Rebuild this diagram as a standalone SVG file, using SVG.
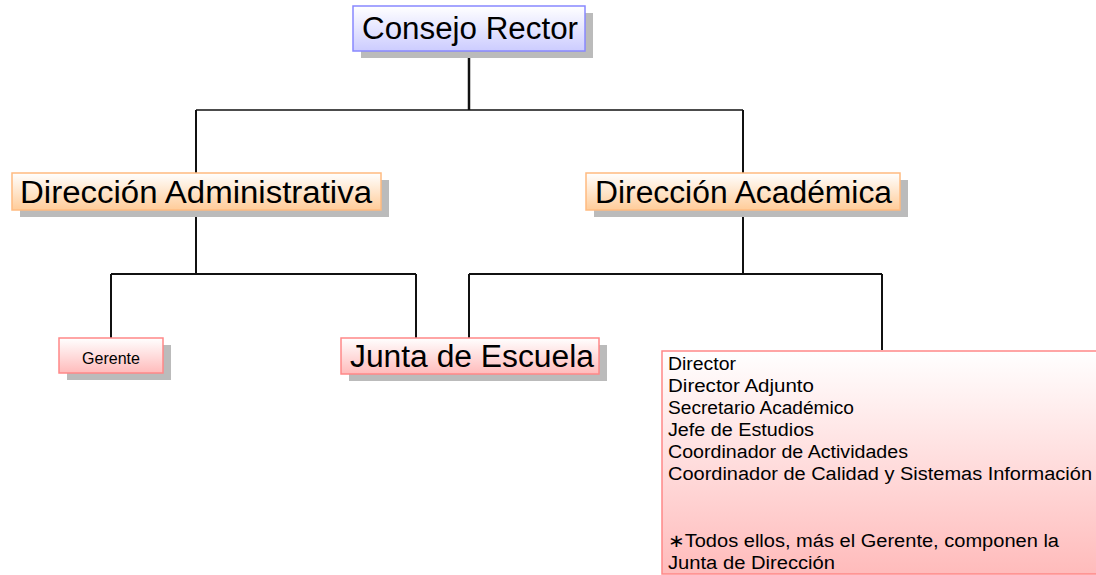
<svg xmlns="http://www.w3.org/2000/svg" width="1096" height="575" viewBox="0 0 1096 575">
<style>
.t{font-family:"Liberation Sans",Arial,sans-serif;fill:#000}
.big{font-size:31px}
.sm{font-size:18px}
.shadow{fill:#bbbbbb}
.blue{fill:url(#gBlue);stroke:#8888ff;stroke-width:1.5}
.orange{fill:url(#gOrange);stroke:#ffbb80;stroke-width:1.5}
.red{fill:url(#gRed);stroke:#ff8888;stroke-width:1.5}
.ln{stroke:#111;fill:none}
</style>
<defs>
<linearGradient id="gBlue" x1="0" y1="0" x2="0" y2="1"><stop offset="0" stop-color="#ffffff"/><stop offset="1" stop-color="#ccccff"/></linearGradient>
<linearGradient id="gOrange" x1="0" y1="0" x2="0" y2="1"><stop offset="0" stop-color="#ffffff"/><stop offset="1" stop-color="#ffcc99"/></linearGradient>
<linearGradient id="gRed" x1="0" y1="0" x2="0" y2="1"><stop offset="0" stop-color="#ffffff"/><stop offset="1" stop-color="#ffbbbb"/></linearGradient>
</defs>
<rect width="1096" height="575" fill="#ffffff"/>
<g id="connectors">
<path class="ln" stroke-width="2.5" d="M469,51 V110"/>
<path class="ln" stroke-width="1.5" d="M196,110 H743"/>
<path class="ln" stroke-width="2" d="M196,110 V173 M743,110 V173"/>
<path class="ln" stroke-width="2" d="M196,210 V274 M743,210 V274"/>
<path class="ln" stroke-width="2" d="M111,274 H416 M469,274 H882"/>
<path class="ln" stroke-width="2" d="M111,274 V338 M416,274 V338 M469,274 V338 M882,274 V350"/>
</g>
<g id="consejo">
<rect class="shadow" x="361" y="13" width="232" height="45"/>
<rect class="blue" x="353" y="6" width="232" height="45"/>
<text class="t big" x="362" y="39" textLength="216" lengthAdjust="spacingAndGlyphs">Consejo Rector</text>
</g>
<g id="dir-admin">
<rect class="shadow" x="20" y="180" width="369" height="37"/>
<rect class="orange" x="12" y="173" width="369" height="37"/>
<text class="t big" x="20" y="203" textLength="352" lengthAdjust="spacingAndGlyphs">Dirección Administrativa</text>
</g>
<g id="dir-acad">
<rect class="shadow" x="594" y="180" width="314" height="37"/>
<rect class="orange" x="586" y="173" width="314" height="37"/>
<text class="t big" x="595" y="203" textLength="297" lengthAdjust="spacingAndGlyphs">Dirección Académica</text>
</g>
<g id="gerente">
<rect class="shadow" x="67" y="345" width="104" height="35"/>
<rect class="red" x="59" y="338" width="104" height="35"/>
<text class="t" font-size="16" x="111" y="364" text-anchor="middle">Gerente</text>
</g>
<g id="junta">
<rect class="shadow" x="349" y="345" width="258" height="36"/>
<rect class="red" x="341" y="338" width="258" height="36"/>
<text class="t big" x="350" y="367" textLength="244" lengthAdjust="spacingAndGlyphs">Junta de Escuela</text>
</g>
<g id="junta-direccion">
<rect class="red" x="662" y="351" width="450" height="223"/>
<text class="t sm" x="668" y="370" textLength="68" lengthAdjust="spacingAndGlyphs">Director</text>
<text class="t sm" x="668" y="392" textLength="146" lengthAdjust="spacingAndGlyphs">Director Adjunto</text>
<text class="t sm" x="668" y="414" textLength="186" lengthAdjust="spacingAndGlyphs">Secretario Académico</text>
<text class="t sm" x="668" y="436" textLength="146" lengthAdjust="spacingAndGlyphs">Jefe de Estudios</text>
<text class="t sm" x="668" y="458" textLength="240" lengthAdjust="spacingAndGlyphs">Coordinador de Actividades</text>
<text class="t sm" x="668" y="480" textLength="424" lengthAdjust="spacingAndGlyphs">Coordinador de Calidad y Sistemas Información</text>
<text class="t sm" x="668" y="547" textLength="391" lengthAdjust="spacingAndGlyphs">∗Todos ellos, más el Gerente, componen la</text>
<text class="t sm" x="668" y="569" textLength="167" lengthAdjust="spacingAndGlyphs">Junta de Dirección</text>
</g>
</svg>
